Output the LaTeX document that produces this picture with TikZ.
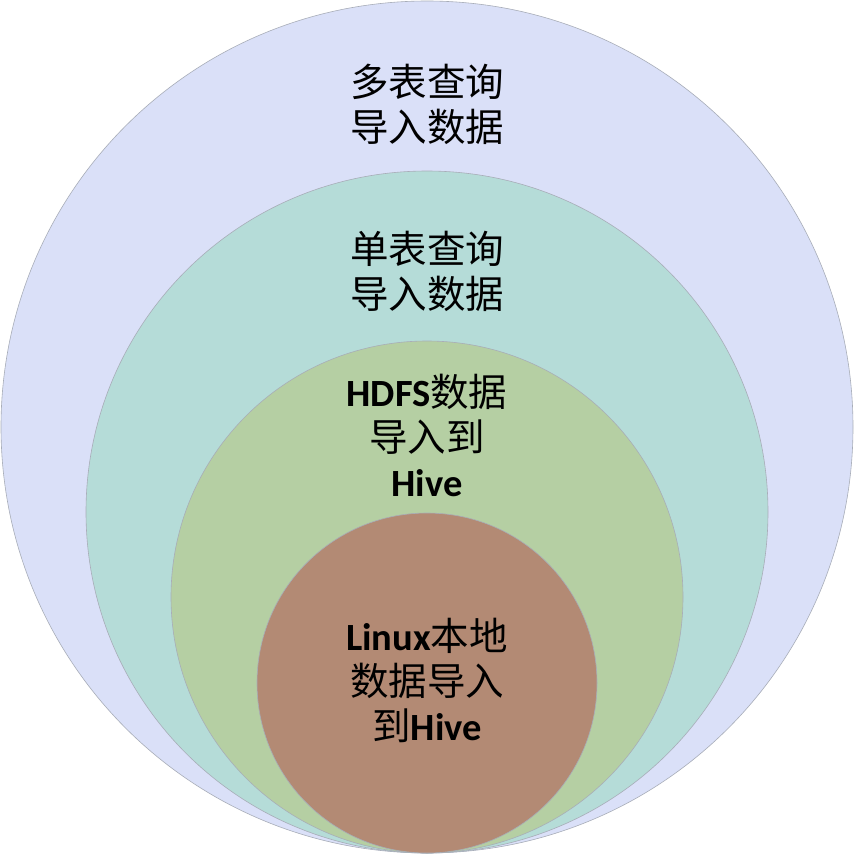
\documentclass[tikz,border=0pt]{standalone}
\usepackage{fontspec}
\setmainfont{Carlito}
\newfontfamily\cjk{Noto Sans CJK SC}[Scale=1.0]
\definecolor{cA}{HTML}{DAE0F8}
\definecolor{cB}{HTML}{B5DCD8}
\definecolor{cC}{HTML}{B5CFA3}
\definecolor{cD}{HTML}{B38A74}
\definecolor{edge}{HTML}{A8ADB8}
\tikzset{ring/.style={draw=edge,line width=0.6pt},
  lbl/.style={align=center,font=\fontsize{38.5}{45}\selectfont,text=black,inner sep=0pt}}
\begin{document}
\begin{tikzpicture}[x=1pt,y=-1pt]
\useasboundingbox (0,0) rectangle (854,854);
\fill[white] (0,0) rectangle (854,854);
\draw[ring,fill=cA] (427,427) circle (426);
\draw[ring,fill=cB] (427,512) circle (341);
\draw[ring,fill=cC] (427,597) circle (256);
\draw[ring,fill=cD] (427,683) circle (170);
\node[lbl] (t1) at (427,104) {{\cjk 多表查询}\\{\cjk 导入数据}};
\node[lbl] (t2) at (427,271) {{\cjk 单表查询}\\{\cjk 导入数据}};
\node[lbl] (t3) at (427,435) {\textbf{HDFS}{\cjk 数据}\\{\cjk 导入到}\\\textbf{Hive}};
\node[lbl] (t4) at (427,680) {\textbf{Linux}{\cjk 本地}\\{\cjk 数据导入}\\{\cjk 到}\textbf{Hive}};
\end{tikzpicture}
\end{document}
